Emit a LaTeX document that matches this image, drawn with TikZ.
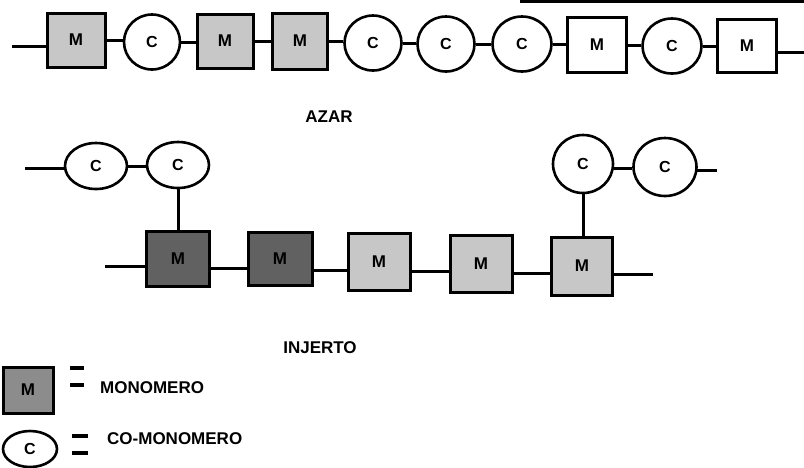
\documentclass[tikz,border=0pt]{standalone}
\usepackage{fontspec}
\setmainfont{Liberation Sans}
\usetikzlibrary{shapes.geometric}
\tikzset{
  chain/.style={line width=3pt},
  mbox/.style={draw, line width=3pt, rectangle, inner sep=0pt, font=\fontsize{17}{17}\selectfont\bfseries},
  cball/.style={draw, line width=2.6pt, ellipse, inner sep=0pt, fill=white, font=\fontsize{16}{16}\selectfont\bfseries},
  lightm/.style={fill=black!22},
  darkm/.style={fill=black!62},
  whitem/.style={fill=white},
  label/.style={font=\fontsize{17}{17}\selectfont\bfseries, inner sep=0pt},
  eqbar/.style={line width=3.5pt}
}
\begin{document}
\begin{tikzpicture}[x=1pt,y=-1pt]
\useasboundingbox (0,0) rectangle (804,467);
% top border fragment
\coordinate (tb1) at (520,1.5);
\coordinate (tb2) at (804,1.5);
\draw[line width=3pt] (tb1) -- (tb2);

% ---------- AZAR chain ----------
\coordinate (a0) at (12,46);
\node[mbox,lightm,minimum width=58pt,minimum height=54pt] (am1) at (76,40) {M};
\node[cball,minimum width=56pt,minimum height=55pt] (ac1) at (152,42) {C};
\node[mbox,lightm,minimum width=56pt,minimum height=54pt] (am2) at (225,41) {M};
\node[mbox,lightm,minimum width=55pt,minimum height=56pt] (am3) at (300,41) {M};
\node[cball,minimum width=57pt,minimum height=55pt] (ac2) at (373,43) {C};
\node[cball,minimum width=57pt,minimum height=55pt] (ac3) at (446,44) {C};
\node[cball,minimum width=59pt,minimum height=55pt] (ac4) at (522,44) {C};
\node[mbox,whitem,minimum width=59pt,minimum height=55pt] (am4) at (597,45) {M};
\node[cball,minimum width=59pt,minimum height=55pt] (ac5) at (672,46) {C};
\node[mbox,whitem,minimum width=59pt,minimum height=53pt] (am5) at (747,46) {M};
\coordinate (a1) at (804,52);
\draw[chain] (a0) -- (a0 -| am1.west);
\draw[chain] (am1.east) -- (am1.east -| ac1.west);
\draw[chain] (ac1.east) -- (ac1.east -| am2.west);
\draw[chain] (am2.east) -- (am2.east -| am3.west);
\draw[chain] (am3.east) -- (am3.east -| ac2.west);
\draw[chain] (ac2.east) -- (ac2.east -| ac3.west);
\draw[chain] (ac3.east) -- (ac3.east -| ac4.west);
\draw[chain] (ac4.east) -- (ac4.east -| am4.west);
\draw[chain] (am4.east) -- (am4.east -| ac5.west);
\draw[chain] (ac5.east) -- (ac5.east -| am5.west);
\draw[chain] (am5.east |- a1) -- (a1);

\node[label] (azar) at (329,117) {AZAR};

% ---------- INJERTO chain ----------
\coordinate (g0) at (105,266);
\node[mbox,darkm,minimum width=63pt,minimum height=55pt] (gm1) at (178,259) {M};
\node[mbox,darkm,minimum width=64pt,minimum height=53pt] (gm2) at (280,259) {M};
\node[mbox,lightm,minimum width=62pt,minimum height=57pt] (gm3) at (379,262) {M};
\node[mbox,lightm,minimum width=62pt,minimum height=57pt] (gm4) at (481,264) {M};
\node[mbox,lightm,minimum width=61pt,minimum height=58pt] (gm5) at (582,266) {M};
\coordinate (g1) at (653,274);
\draw[chain] (g0) -- (g0 -| gm1.west);
\draw[chain] (gm1.east |- 0,268) -- (gm2.west |- 0,268);
\draw[chain] (gm2.east |- 0,270) -- (gm3.west |- 0,270);
\draw[chain] (gm3.east |- 0,271) -- (gm4.west |- 0,271);
\draw[chain] (gm4.east |- 0,273) -- (gm5.west |- 0,273);
\draw[chain] (gm5.east |- g1) -- (g1);

\coordinate (h0) at (25,168);
\node[cball,minimum width=62pt,minimum height=46pt] (gca) at (96,166) {C};
\node[cball,minimum width=62pt,minimum height=46pt] (gcb) at (178,165) {C};
\draw[chain] (h0) -- (h0 -| gca.west);
\draw[chain] (gca.east) -- (gca.east -| gcb.west);
\draw[chain] (gcb.south) -- (gcb.south |- gm1.north);

\node[cball,minimum width=60pt,minimum height=58pt] (gcc) at (583,164) {C};
\node[cball,minimum width=63pt,minimum height=58pt] (gcd) at (665,167) {C};
\coordinate (h1) at (717,170);
\draw[chain] (gcc.east |- 0,168) -- (gcd.west |- 0,168);
\draw[chain] ([xshift=-2pt]gcd.east |- h1) -- (h1);
\draw[chain] (gm5.north -| gcc.south) -- (gcc.south);

\node[label] (injerto) at (320,348) {INJERTO};

% ---------- legend ----------
\node[mbox,fill=black!45,minimum width=50pt,minimum height=46pt] (lm) at (28,390) {M};
\coordinate (e1a) at (70,368); \coordinate (e1b) at (84,368);
\coordinate (e2a) at (70,385); \coordinate (e2b) at (84,385);
\draw[eqbar] (e1a) -- (e1b);
\draw[eqbar] (e2a) -- (e2b);
\node[label,anchor=west] (lmt) at (100,388) {MONOMERO};

\node[cball,minimum width=54pt,minimum height=36pt] (lc) at (30,449) {C};
\coordinate (e3a) at (72,436); \coordinate (e3b) at (88,436);
\coordinate (e4a) at (72,453); \coordinate (e4b) at (88,453);
\draw[eqbar] (e3a) -- (e3b);
\draw[eqbar] (e4a) -- (e4b);
\node[label,anchor=west] (lct) at (107,439) {CO-MONOMERO};
\end{tikzpicture}
\end{document}
